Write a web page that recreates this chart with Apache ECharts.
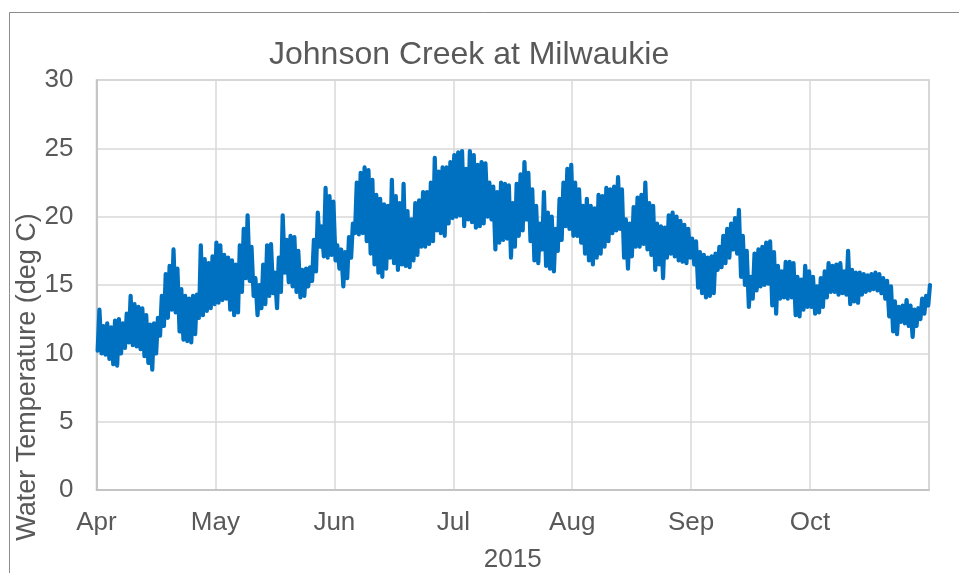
<!DOCTYPE html>
<html>
<head>
<meta charset="utf-8">
<script src="https://cdn.jsdelivr.net/npm/echarts@6/dist/echarts.min.js"></script>
<style>
html,body{margin:0;padding:0;background:#fff;}
#chart{width:959px;height:573px;}
</style>
</head>
<body>
<div id="chart"></div>
<script>
// Day 0 = 1 April 2015; x axis in days since 1 April
var titleText = "Johnson Creek at Milwaukie";
var yAxisTitle = "Water Temperature (deg C)";
var xAxisTitle = "2015";
var monthLabels = ["Apr","May","Jun","Jul","Aug","Sep","Oct",""];
var yTicks = [0,5,10,15,20,25,30];

// daily maximum water temperature (deg C), day 0 = Apr 1
var dailyMax = [
 13.2,12.0,12.2,11.9,12.4,12.5,12.2,12.9,14.2,13.6,
 13.4,13.3,12.8,12.1,12.2,12.6,14.2,15.8,16.4,17.6,
 16.2,14.7,14.2,14.0,14.2,14.3,17.9,16.9,16.6,17.1,
 18.1,17.9,17.2,17.0,16.8,16.5,17.9,19.1,20.1,17.8,
 15.5,15.0,16.5,17.9,18.0,15.9,17.0,20.1,18.3,18.6,
 18.5,17.5,16.1,16.2,16.3,18.3,20.3,19.3,22.1,21.5,
 21.1,17.9,17.6,17.4,18.5,19.5,22.5,23.2,23.6,23.4,
 22.7,21.6,21.3,20.9,20.8,22.7,21.5,21.0,22.4,20.4,
 19.8,21.0,21.2,21.8,21.8,22.5,24.3,23.3,23.6,23.6,
 24.0,24.5,24.7,24.8,23.5,24.8,24.5,23.8,24.0,23.9,
 22.5,22.2,21.8,22.5,22.4,22.3,21.0,22.4,23.1,24.0,
 23.2,22.0,20.8,19.5,21.8,20.3,20.0,19.1,21.3,22.5,
 23.5,23.8,22.5,22.0,20.8,21.3,20.8,20.6,21.6,21.5,
 22.1,22.0,22.2,22.9,22.0,19.8,19.5,20.7,21.4,21.6,
 22.5,21.0,20.8,19.5,19.3,19.2,20.1,20.3,20.0,19.7,
 19.4,19.1,18.4,18.2,17.4,17.2,17.0,17.1,17.3,17.8,
 18.6,19.1,19.5,19.9,20.5,18.6,17.5,15.6,17.3,17.6,
 17.8,18.1,18.2,17.4,16.4,16.0,16.7,16.7,16.6,15.6,
 15.4,16.4,16.0,15.6,14.9,15.5,16.0,16.6,16.4,16.5,
 16.6,16.0,17.5,16.1,15.9,15.9,15.8,15.7,15.8,15.9,
 15.8,15.5,15.3,14.9,13.8,13.4,13.5,13.9,13.5,13.2,
 13.3,14.0,14.2,15.0
];
// daily minimum water temperature (deg C)
var dailyMin = [
 10.2,10.0,9.9,9.6,9.2,9.1,10.0,10.4,10.8,10.6,
 10.5,10.3,9.8,9.3,8.8,10.0,11.3,12.0,12.6,13.2,
 13.0,11.6,11.0,10.9,10.8,11.4,12.6,12.8,13.1,13.3,
 13.6,13.7,13.9,14.0,13.2,12.8,13.0,14.5,15.5,15.3,
 14.2,12.8,13.3,13.6,14.2,14.4,13.3,14.5,15.9,15.2,
 14.9,14.5,14.1,14.2,14.9,15.3,16.0,17.8,17.1,17.0,
 17.2,16.8,16.2,14.9,15.5,17.0,18.8,18.7,18.8,18.2,
 17.3,16.5,15.9,15.6,16.2,17.0,16.6,16.1,16.5,16.4,
 16.3,16.8,17.2,17.8,17.8,18.0,18.2,19.0,18.8,18.6,
 19.5,19.9,20.0,20.1,19.3,19.8,19.6,19.2,19.3,19.5,
 20.0,19.8,17.6,18.1,18.3,18.4,17.0,17.8,18.6,19.0,
 19.8,18.2,16.8,16.6,17.6,16.4,16.2,16.0,17.5,18.3,
 19.3,19.1,18.6,18.6,18.1,17.3,16.8,16.5,17.0,17.3,
 17.8,18.2,18.8,19.0,19.1,17.0,16.2,17.1,17.8,17.8,
 18.0,17.6,17.2,16.1,16.5,15.5,17.0,17.3,17.1,16.8,
 16.7,16.6,17.0,16.5,14.8,14.4,14.1,14.2,14.4,16.1,
 16.3,16.6,17.0,17.6,17.3,15.6,15.0,13.4,14.0,14.6,
 14.9,15.0,15.1,13.5,12.9,14.0,14.1,14.0,14.1,12.8,
 12.7,13.2,13.4,13.4,12.9,13.0,13.4,14.1,14.5,14.5,
 14.3,14.4,14.3,13.6,13.8,13.7,14.3,14.5,14.6,14.7,
 14.6,14.4,14.0,12.7,11.6,11.4,12.3,12.2,12.0,11.2,
 12.0,12.5,12.9,13.5
];

var seriesData = [];
for (var d = 0; d < dailyMax.length; d++) {
  seriesData.push([d + 0.3, dailyMin[d]]);
  seriesData.push([d + 0.75, dailyMax[d]]);
}

var FONT = "'Liberation Sans', Arial, sans-serif";
var TXT = "#595959";
var chart = echarts.init(document.getElementById('chart'), null, {renderer:'canvas'});
chart.setOption({
  animation: false,
  backgroundColor: '#ffffff',
  title: {
    text: titleText,
    left: 264, top: 34,
    textStyle: {fontFamily: FONT, fontSize: 32, fontWeight: 'normal', color: TXT}
  },
  grid: {left: 96.5, top: 80, right: 30, bottom: 83, outerBoundsMode: 'none', containLabel: false,
         show: true, borderColor: '#c6c6c6', borderWidth: 1.5, backgroundColor: 'transparent'},
  xAxis: {
    type: 'value', min: 0, max: 213.5, interval: 30.5,
    axisLine: {show: true, lineStyle: {color: '#bfbfbf', width: 1.5}},
    axisTick: {show: false},
    splitLine: {show: true, lineStyle: {color: '#d9d9d9', width: 1.5}},
    axisLabel: {
      fontFamily: FONT, fontSize: 26, color: TXT, margin: 20,
      formatter: function (v) { return monthLabels[Math.round(v / 30.5)] || ''; }
    },
    name: xAxisTitle, nameLocation: 'middle', nameGap: 57,
    nameTextStyle: {fontFamily: FONT, fontSize: 26, color: TXT}
  },
  yAxis: {
    type: 'value', min: yTicks[0], max: yTicks[yTicks.length - 1], interval: 5,
    axisLine: {show: true, lineStyle: {color: '#bfbfbf', width: 1.5}},
    axisTick: {show: false},
    splitLine: {show: true, lineStyle: {color: '#d9d9d9', width: 1.5}},
    axisLabel: {fontFamily: FONT, fontSize: 26, color: TXT, margin: 23}
  },
  graphic: [
    {type: 'rect', silent: true, z: -10, shape: {x: 9.5, y: 12.5, width: 1000, height: 700},
     style: {fill: 'none', stroke: '#8c8c8c', lineWidth: 1}},
    {type: 'text', x: 28, y: 377, rotation: Math.PI / 2,
     style: {text: yAxisTitle, font: "27px 'Liberation Sans', Arial, sans-serif", fill: TXT, textAlign: 'center', textVerticalAlign: 'middle'}}
  ],
  series: [{
    type: 'line', data: seriesData, showSymbol: false, symbol: 'none',
    lineStyle: {color: '#0070C0', width: 4.2, cap: 'round', join: 'round'},
    clip: true
  }]
});
</script>
</body>
</html>
